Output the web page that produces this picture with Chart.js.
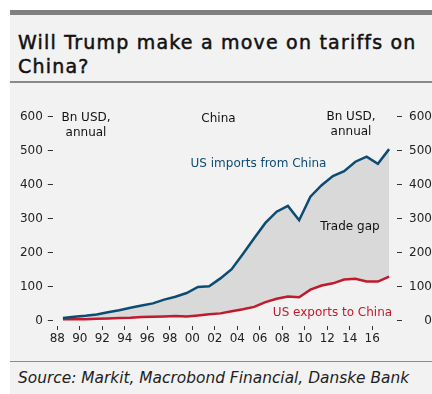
<!DOCTYPE html>
<html>
<head>
<meta charset="utf-8">
<script src="https://cdn.jsdelivr.net/npm/chart.js@4/dist/chart.umd.min.js"></script>
<style>
  html, body { margin: 0; padding: 0; background: #fff; }
  body { width: 432px; height: 394px; position: relative; overflow: hidden; font-family: "DejaVu Sans", sans-serif; }
  #panel { position: absolute; left: 10px; top: 10px; width: 422px; height: 384px; background: #f2f2f2; border-top: 5px solid #808080; box-sizing: border-box; }
  #title { position: absolute; left: 8px; top: 15px; font-size: 19px; line-height: 24px; color: #111; letter-spacing: 1.2px; -webkit-text-stroke: 0.5px #111; white-space: nowrap; }
  #rule1 { position: absolute; left: 0; right: 0; top: 66px; height: 2px; background: #8a8a8a; }
  #rule2 { position: absolute; left: 0; right: 0; top: 346px; height: 1px; background: #8a8a8a; }
  #source { position: absolute; left: 8px; top: 354px; font-size: 15.4px; font-style: italic; color: #222; }
  #wrap { position: absolute; left: 10px; top: 84px; width: 422px; height: 276px; }
</style>
</head>
<body>
<div id="panel">
  <div id="title">Will Trump make a move on tariffs on<br>China?</div>
  <div id="rule1"></div>
  <div id="rule2"></div>
  <div id="source">Source: Markit, Macrobond Financial, Danske Bank</div>
</div>
<div id="wrap"><canvas id="chart" width="422" height="276"></canvas></div>
<script>
// annual data, Bn USD
const years = [1988, 1989, 1990, 1991, 1992, 1993, 1994, 1995, 1996, 1997,
               1998, 1999, 2000, 2001, 2002, 2003, 2004, 2005, 2006, 2007,
               2008, 2009, 2010, 2011, 2012, 2013, 2014, 2015, 2016, 2017];
const importsFromChina = [8.5, 12, 15, 19, 25.5, 31.5, 38.5, 45.5, 51.5, 62.5,
                          71, 82, 100, 102, 125, 152, 197, 243, 288, 321,
                          338, 296, 365, 399, 426, 440, 468, 483, 462, 505];
const exportsToChina = [5, 5.8, 4.8, 6.3, 7.4, 8.8, 9.3, 11.7, 12, 12.9,
                        14.2, 13.1, 16.2, 19.2, 22.1, 28.4, 34.4, 41.2, 55.2, 65.2,
                        71.5, 69.6, 92, 104, 110.5, 121.7, 123.7, 116, 115.6, 130];
const xTickYears = [1988, 1990, 1992, 1994, 1996, 1998, 2000, 2002, 2004, 2006, 2008, 2010, 2012, 2014, 2016];
const xTickLabels = ['88', '90', '92', '94', '96', '98', '00', '02', '04', '06', '08', '10', '12', '14', '16'];
const yTicks = [0, 100, 200, 300, 400, 500, 600];

const BLUE = '#0d4c72';
const RED = '#c01a2c';
const FONT = '"DejaVu Sans", sans-serif';

// texts written inside the plot (canvas pixels)
const notes = [
  { text: 'Bn USD,', x: 76, y: 34, color: '#111' },
  { text: 'annual', x: 76, y: 49, color: '#111' },
  { text: 'China', x: 208.5, y: 35, color: '#111' },
  { text: 'Bn USD,', x: 341, y: 33, color: '#111' },
  { text: 'annual', x: 341, y: 48, color: '#111' },
  { text: 'US imports from China', x: 248.5, y: 80, color: BLUE },
  { text: 'Trade gap', x: 340, y: 143, color: '#111' },
  { text: 'US exports to China', x: 322.5, y: 229, color: RED }
];

const notesPlugin = {
  id: 'notes',
  afterDatasetsDraw(chart) {
    const ctx = chart.ctx;
    ctx.save();
    ctx.font = '12px ' + FONT;
    ctx.textAlign = 'center';
    ctx.textBaseline = 'middle';
    notes.forEach(n => {
      ctx.fillStyle = n.color;
      ctx.fillText(n.text, n.x, n.y);
    });
    ctx.restore();
  }
};

const tickFont = { family: FONT, size: 12 };

function yAxis(position, width) {
  return {
    type: 'linear',
    position: position,
    min: -15,
    max: 620,
    afterBuildTicks: s => { s.ticks = yTicks.map(v => ({ value: v })); },
    afterFit: s => { s.width = width; },
    grid: { drawOnChartArea: false, drawTicks: true, tickLength: 5, tickColor: '#333', tickWidth: 1 },
    border: { display: false },
    ticks: { color: '#222', font: tickFont, padding: 5, crossAlign: position === 'right' ? 'far' : 'near' }
  };
}

new Chart(document.getElementById('chart').getContext('2d'), {
  type: 'line',
  data: {
    datasets: [{
      label: 'US imports from China',
      data: years.map((y, i) => ({ x: y, y: importsFromChina[i] })),
      borderColor: BLUE,
      borderWidth: 2.5,
      pointRadius: 0,
      tension: 0,
      fill: '+1',
      backgroundColor: '#d9d9d9'
    }, {
      label: 'US exports to China',
      data: years.map((y, i) => ({ x: y, y: exportsToChina[i] })),
      borderColor: RED,
      borderWidth: 2.5,
      pointRadius: 0,
      tension: 0,
      fill: false
    }]
  },
  options: {
    responsive: false,
    animation: false,
    layout: { padding: { top: 26, left: 0, right: 0, bottom: 0 } },
    plugins: {
      legend: { display: false },
      tooltip: { enabled: false },
      filler: { drawTime: 'beforeDatasetsDraw' }
    },
    scales: {
      x: {
        type: 'linear',
        min: 1987.1,
        max: 2017.7,
        afterBuildTicks: s => { s.ticks = xTickYears.map(y => ({ value: y - 0.5 })); },
        afterFit: s => { s.height = 34; },
        grid: { drawOnChartArea: false, drawTicks: true, tickLength: 4, tickColor: '#333', tickWidth: 1 },
        border: { display: false },
        ticks: {
          color: '#222', font: tickFont, padding: 2, autoSkip: false, maxRotation: 0,
          callback: (v) => xTickLabels[xTickYears.indexOf(v + 0.5)]
        }
      },
      y: yAxis('left', 42.8),
      y2: yAxis('right', 35)
    }
  },
  plugins: [notesPlugin]
});
</script>
</body>
</html>
